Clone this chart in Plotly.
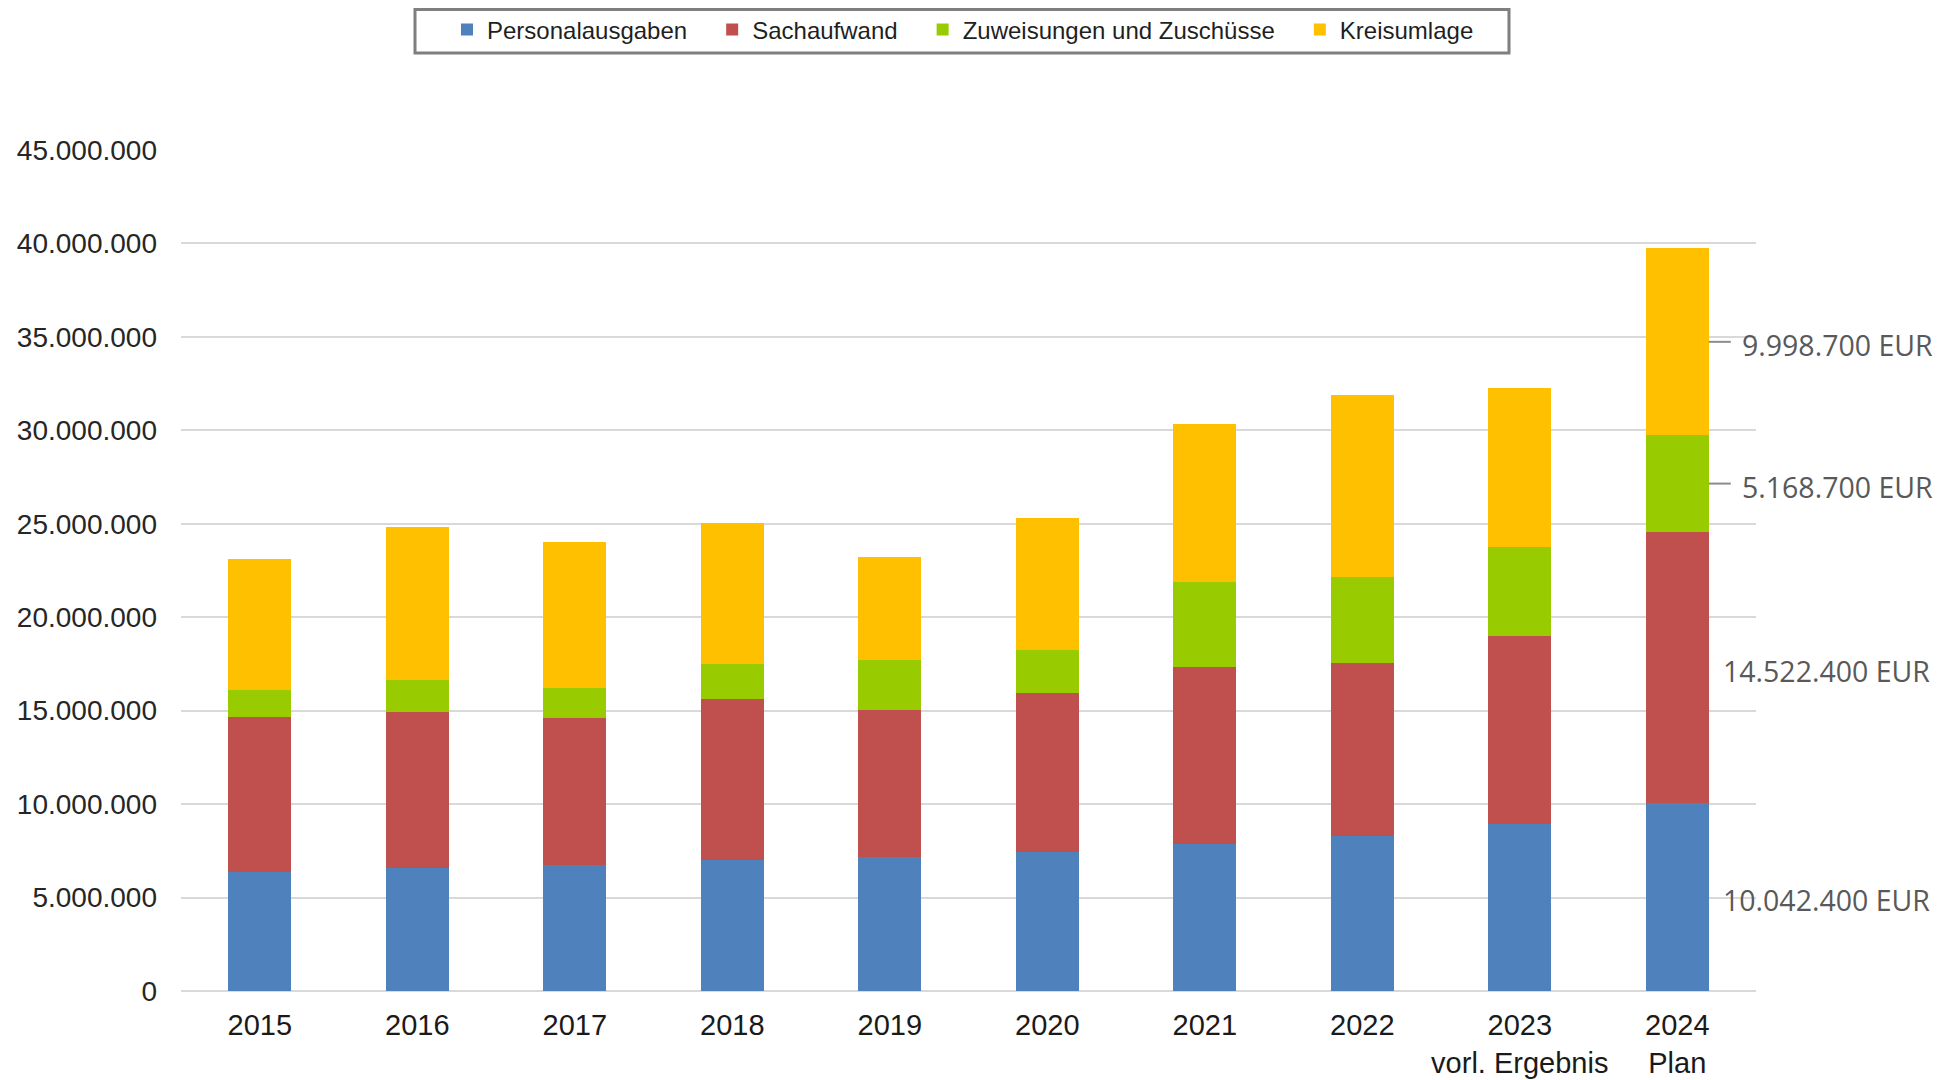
import plotly.graph_objects as go

years = ["2015", "2016", "2017", "2018", "2019", "2020", "2021", "2022", "2023", "2024"]
tick_labels = ["2015", "2016", "2017", "2018", "2019", "2020", "2021", "2022",
               "2023<br>vorl. Ergebnis", "2024<br>Plan"]

personalausgaben = [6380000, 6560000, 6740000, 7000000, 7160000, 7440000, 7840000, 8280000, 8920000, 10042400]
sachaufwand = [8290000, 8390000, 7840000, 8650000, 7850000, 8480000, 9470000, 9280000, 10100000, 14522400]
zuweisungen = [1430000, 1690000, 1620000, 1820000, 2710000, 2350000, 4570000, 4600000, 4760000, 5168700]
kreisumlage = [7030000, 8170000, 7820000, 7550000, 5480000, 7030000, 8480000, 9720000, 8480000, 9998700]

series = [
    ("Personalausgaben", personalausgaben, "#4F81BD"),
    ("Sachaufwand", sachaufwand, "#C0504D"),
    ("Zuweisungen und Zuschüsse", zuweisungen, "#99CC00"),
    ("Kreisumlage", kreisumlage, "#FFC000"),
]

fig = go.Figure()
for name, vals, color in series:
    fig.add_trace(go.Bar(
        x=years, y=vals, name=name + "\u00a0\u00a0\u00a0",
        marker=dict(color=color, line=dict(width=0)),
    ))


def fmt_eur(v):
    return f"{v:,}".replace(",", ".") + " EUR"


# labels for the last (plan) column
last = len(years) - 1
cum = 0
leader = {"Zuweisungen und Zuschüsse", "Kreisumlage"}
annotations = []
shapes = []
lab_font = dict(family="Open Sans", size=28.5, color="#595959")
for name, vals, color in series:
    v = vals[last]
    mid = cum + v / 2
    cum += v
    if name in leader:
        annotations.append(dict(
            x=last + 0.40, y=mid, xref="x", yref="y", text=fmt_eur(v),
            showarrow=False, xanchor="left", yanchor="middle", yshift=-3,
            font=lab_font,
        ))
        shapes.append(dict(
            type="line", xref="x", yref="y",
            x0=last + 0.2, x1=last + 0.34, y0=mid, y1=mid,
            line=dict(color="#8c8c8c", width=2),
        ))
    else:
        annotations.append(dict(
            x=last + 0.28, y=mid, xref="x", yref="y", text=fmt_eur(v),
            showarrow=False, xanchor="left", yanchor="middle", yshift=-3,
            font=lab_font,
        ))

# legend frame in page pixels (the page body adds an 8px offset)
L, T, R, B = 173, 141, 199, 97
W, H = 1947, 1080
pw, ph = W - L - R, H - T - B
def px_x(x):
    return (x - 8 - L) / pw
def px_y(y):
    return (H - B - (y - 8)) / ph

shapes.append(dict(
    type="rect", xref="paper", yref="paper",
    x0=px_x(415), x1=px_x(1509), y0=px_y(53), y1=px_y(9.5),
    line=dict(color="#7f7f7f", width=3), fillcolor="rgba(0,0,0,0)",
))

fig.update_layout(
    width=W, height=H,
    barmode="stack",
    bargap=0.6,
    separators=",.",
    paper_bgcolor="white",
    plot_bgcolor="white",
    font=dict(family="Liberation Sans, Arial, sans-serif", size=26, color="#262626"),
    margin=dict(l=L, r=R, t=T, b=B, autoexpand=False),
    legend=dict(
        orientation="h",
        x=px_x(447), xanchor="left",
        y=px_y(30), yanchor="middle",
        borderwidth=0,
        font=dict(size=24, color="#1f1f1f"),
        traceorder="normal",
        bgcolor="rgba(0,0,0,0)",
    ),
    annotations=annotations,
    shapes=shapes,
)

fig.update_xaxes(
    type="category",
    range=[-0.5, len(years) - 0.5],
    tickvals=years, ticktext=tick_labels,
    tickfont=dict(size=29, color="#1a1a1a"),
    showgrid=False, showline=False, ticks="",
    ticklabelstandoff=14,
)
fig.update_yaxes(
    range=[0, 45050000], tickvals=list(range(0, 45000001, 5000000)),
    tickformat=",.0f",
    tickfont=dict(size=28, color="#262626"),
    showgrid=True, gridcolor="#d9d9d9", gridwidth=2,
    zeroline=True, zerolinecolor="#d9d9d9", zerolinewidth=2,
    showline=False, ticks="",
    ticklabelstandoff=23,
)

fig.write_html("out.html")
